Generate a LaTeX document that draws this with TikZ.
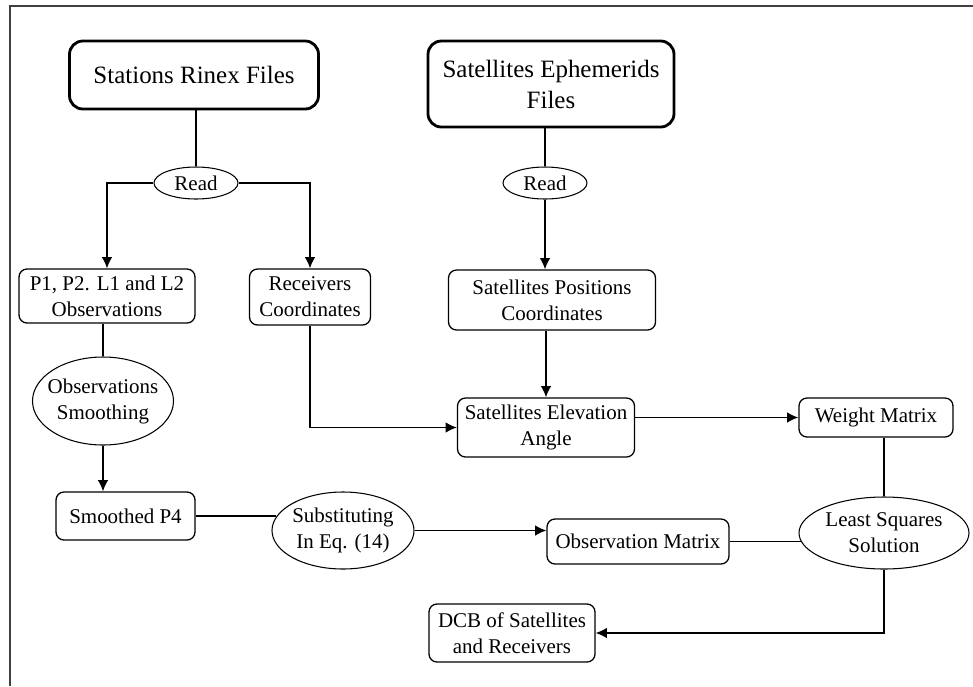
\documentclass[tikz,border=0pt]{standalone}
\usepackage{fontspec}
\setmainfont{Liberation Serif}
\usetikzlibrary{arrows.meta,shapes.geometric}

\begin{document}
\begin{tikzpicture}[x=0.3mm,y=-0.3mm,
  filebox/.style={draw,line width=2.4pt,rounded corners=4mm,align=center,inner sep=0pt,
    font=\fontsize{21.3}{26.5}\selectfont},
  box/.style={draw,line width=1.1pt,rounded corners=2.4mm,align=center,inner sep=0pt,
    font=\fontsize{17.9}{22.2}\selectfont},
  oval/.style={draw,ellipse,line width=0.9pt,align=center,inner sep=-2mm,
    font=\fontsize{17.9}{22.2}\selectfont},
  conn/.style={line width=1.2pt},
  arr/.style={line width=1.2pt,-{Latex[length=3.4mm,width=3.2mm]}}]
\useasboundingbox (0,0) rectangle (973,686);
% frame
\draw[line width=1.6pt,black!75] (10,686) -- (10,6) -- (973,6);

% input files
\node[filebox,minimum width=74.7mm,minimum height=20.4mm] (stations) at (194,75) {Stations Rinex Files};
\node[filebox,minimum width=73.8mm,minimum height=25.8mm] (ephem) at (551,84) {Satellites Ephemerids\\Files};
\node[oval,minimum width=25.2mm,minimum height=9.6mm] (read1) at (196,183) {Read};
\node[oval,minimum width=25.2mm,minimum height=9.6mm] (read2) at (545,183) {Read};

\node[box,minimum width=52.8mm,minimum height=16.2mm] (obsfile) at (107,296) {P1, P2. L1 and L2\\Observations};
\node[box,minimum width=36.3mm,minimum height=16.8mm] (recv) at (310,297) {Receivers\\Coordinates};
\node[box,minimum width=62.1mm,minimum height=18mm] (satpos) at (552,300) {Satellites Positions\\Coordinates};

\node[oval,minimum width=42.3mm,minimum height=26.4mm] (smooth) at (103,401) {Observations\\Smoothing};
\node[box,minimum width=53.1mm,minimum height=17.7mm] (elev) at (546,427.5) {Satellites Elevation\\Angle};
\node[box,minimum width=46.2mm,minimum height=11.7mm] (weight) at (876,417.5) {Weight Matrix};

\node[box,minimum width=41.7mm,minimum height=14.4mm] (smoothed) at (125.5,516) {Smoothed P4};
\node[oval,minimum width=42.6mm,minimum height=23.1mm] (subst) at (343,530.5) {Substituting\\In Eq. (14)};
\node[box,minimum width=54.6mm,minimum height=13.5mm] (obsmat) at (638,541.5) {Observation Matrix};
\node[oval,minimum width=51mm,minimum height=21.6mm] (lsq) at (884,533) {Least Squares\\Solution};
\node[box,minimum width=49.8mm,minimum height=17.4mm] (dcb) at (512,633) {DCB of Satellites\\and Receivers};

% connectors
\draw[conn] (stations.south -| read1.north) -- (read1.north);
\draw[arr] (read1.west) -| (obsfile.north);
\draw[arr] (read1.east) -| (recv.north);
\draw[conn] (ephem.south -| read2.north) -- (read2.north);
\draw[arr] (read2.south) -- (read2.south |- satpos.north);

\draw[conn] (smooth.north |- obsfile.south) -- (smooth.north);
\draw[arr] (smooth.south) -- (smooth.south |- smoothed.north);
\draw[arr] (recv.south) |- (elev.west);
\draw[arr] (elev.north |- satpos.south) -- (elev.north);
\draw[arr] (elev.east |- weight.west) -- (weight.west);

\draw[conn] (smoothed.east) -- (smoothed.east -| subst.168);
\draw[arr] (subst.east) -- (subst.east -| obsmat.west);
\draw[conn] (obsmat.east) -- (obsmat.east -| lsq.187);
\draw[conn] (lsq.north |- weight.south) -- (lsq.north);
\draw[arr] (lsq.south) |- (dcb.east);
\end{tikzpicture}
\end{document}
